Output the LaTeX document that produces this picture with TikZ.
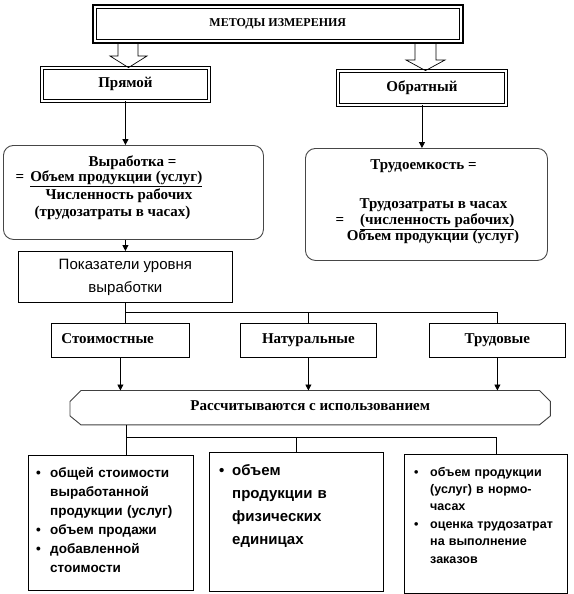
\documentclass[tikz,border=0pt]{standalone}
\usepackage{fontspec}
\setmainfont{Liberation Serif}
\newfontfamily\sansf{Liberation Sans}
\usetikzlibrary{arrows.meta}
\begin{document}
\begin{tikzpicture}[x=1pt,y=-1pt,
  every node/.style={inner sep=0pt},
  ser/.style={font=\fontsize{15}{17}\selectfont\bfseries},
  ln/.style={ser, text height=10pt, text depth=3.5pt},
  dbl/.style={draw, double, double distance=1.8pt, line width=0.7pt, ser, text height=10pt, text depth=3.5pt},
  rbox/.style={draw=gray!55!black, line width=0.9pt, rounded corners=10pt},
  sbox/.style={draw, line width=0.8pt, ser, text height=10pt, text depth=3.5pt},
  arr/.style={line width=0.8pt, -{Triangle[width=6pt,length=6pt]}},
  con/.style={line width=0.8pt},
  blk/.style={draw, line width=0.7pt, line join=miter},
  bul/.style={align=left, anchor=base west},
]
\useasboundingbox (0,0) rectangle (573,594);

% title box
\node[draw, line width=1.6pt, minimum width=370pt, minimum height=38pt, anchor=north west,
      font=\fontsize{12}{14}\selectfont\bfseries] (top) at (92,4) {МЕТОДЫ ИЗМЕРЕНИЯ};
\draw[line width=0.8pt] ([shift={(4pt,-4pt)}]top.north west) rectangle ([shift={(-4pt,4pt)}]top.south east);

% direct / inverse
\node[dbl, minimum width=167pt, minimum height=33pt, anchor=north west] (pryam) at (41.6,67.6) {Прямой};
\node[dbl, minimum width=168pt, minimum height=34pt, anchor=north west] (obr) at (337.6,70.6) {Обратный};

% hollow block arrows
\draw[blk] (118,43.5) -- (118,56) -- (110,56) -- (128.5,0 |- pryam.north) -- (147,56) -- (138,56) -- (138,43.5);
\draw[blk] (415,43.5) -- (415,60) -- (406,60) -- (425.5,0 |- obr.north) -- (445,60) -- (436,60) -- (436,43.5);

% formula boxes
\node[rbox, minimum width=260pt, minimum height=94pt, anchor=north west] (vyr) at (3,145) {};
\node[rbox, minimum width=242pt, minimum height=112pt, anchor=north west] (trud) at (305,148) {};

\node[ln] (v1) at (132.5,163) {Выработка =};
\node[ln] (v2) at (109,178) {=\hspace{6pt}\underline{Объем продукции (услуг)}};
\node[ln] (v3) at (119,196) {Численность рабочих};
\node[ln] (v4) at (112.5,213) {(трудозатраты в часах)};

\node[ln] (t1) at (423.5,166) {Трудоемкость =};
\node[ln] (t2) at (433.5,205) {Трудозатраты в часах};
\node[ln] (t3) at (425,221) {=\hspace{16pt}\underline{(численность рабочих)}};
\node[ln] (t4) at (433,237) {Объем продукции (услуг)};

\draw[arr] (pryam.south) -- (pryam.south |- vyr.north);
\draw[arr] (obr.south) -- (obr.south |- trud.north);

% indicators
\node[draw, line width=0.8pt, font=\sansf\fontsize{15}{23}\selectfont, align=center,
      minimum width=214pt, minimum height=51pt, anchor=north west] (pok) at (18,251) {Показатели уровня\\выработки};
\draw[arr] (pok.north |- vyr.south) -- (pok.north);

\node[sbox, minimum width=138pt, minimum height=34pt, text width=118pt, align=left, anchor=north west] (sto) at (51,323) {Стоимостные};
\node[sbox, minimum width=136pt, minimum height=34pt, anchor=north west] (nat) at (240,323) {Натуральные};
\node[sbox, minimum width=136pt, minimum height=34pt, anchor=north west] (trv) at (429,323) {Трудовые};

\coordinate (j1) at (125,312);
\draw[con] (pok.south) -- (pok.south |- sto.north);
\draw[con] (pok.south |- j1) -| (trv.north);
\draw[con] (nat.north |- j1) -- (nat.north);

% calculated using
\node[ser, text height=10pt, text depth=3.5pt, minimum width=480pt, minimum height=34pt, anchor=north west] (rass) at (70,390.5) {Рассчитываются с использованием};
\draw[draw=gray!50!black, line width=0.9pt]
  ([xshift=11pt]rass.north west) -- ([xshift=-11pt]rass.north east) -- ([yshift=-11pt]rass.north east)
  -- ([yshift=9pt]rass.south east) -- ([xshift=-11pt]rass.south east) -- ([xshift=11pt]rass.south west)
  -- ([yshift=9pt]rass.south west) -- ([yshift=-11pt]rass.north west) -- cycle;

\draw[arr] (sto.south) -- (sto.south |- rass.north);
\draw[arr] (nat.south) -- (nat.south |- rass.north);
\draw[arr] (trv.south) -- (trv.south |- rass.north);

% bottom boxes
\node[draw, line width=0.8pt, minimum width=165pt, minimum height=135pt, anchor=north west] (bl) at (28,455) {};
\node[draw, line width=0.8pt, minimum width=174pt, minimum height=139pt, anchor=north west] (bm) at (209,452) {};
\node[draw, line width=0.8pt, minimum width=163pt, minimum height=139pt, anchor=north west] (br) at (404,454) {};

\coordinate (j2) at (126,437);
\coordinate (j3) at (496,437);
\draw[con] (j2 |- rass.south) -- (j2 |- bl.north);
\draw[con] (j2) -- (j3) -- (j3 |- br.north);
\draw[con] (bm.north |- j2) -- (bm.north);

\node[bul, font=\sansf\bfseries\fontsize{13.5}{19}\selectfont, text width=154pt] (blt) at (36,477)
 {\makebox[14pt][l]{\textbullet}общей стоимости\\
  \hspace*{14pt}выработанной\\
  \hspace*{14pt}продукции (услуг)\\
  \makebox[14pt][l]{\textbullet}объем продажи\\
  \makebox[14pt][l]{\textbullet}добавленной\\
  \hspace*{14pt}стоимости};

\node[bul, font=\sansf\bfseries\fontsize{15}{23}\selectfont, text width=160pt] (bmt) at (219,475)
 {\makebox[13pt][l]{\textbullet}объем\\
  \hspace*{13pt}продукции в\\
  \hspace*{13pt}физических\\
  \hspace*{13pt}единицах};

\node[bul, font=\sansf\bfseries\fontsize{12.5}{17.4}\selectfont, text width=150pt] (brt) at (414,476)
 {\makebox[16pt][l]{\textbullet}объем продукции\\
  \hspace*{16pt}(услуг) в нормо-\\
  \hspace*{16pt}часах\\
  \makebox[16pt][l]{\textbullet}оценка трудозатрат\\
  \hspace*{16pt}на выполнение\\
  \hspace*{16pt}заказов};
\end{tikzpicture}
\end{document}
